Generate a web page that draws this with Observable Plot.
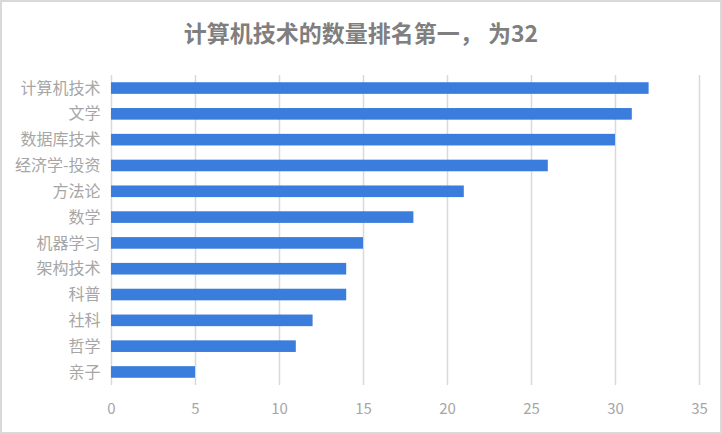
<!DOCTYPE html>
<html>
<head>
<meta charset="utf-8">
<script src="https://cdn.jsdelivr.net/npm/d3@7"></script>
<script src="https://cdn.jsdelivr.net/npm/@observablehq/plot@0.6"></script>
<style>
  html, body { margin: 0; padding: 0; background: #fff; }
  #wrap { position: relative; width: 722px; height: 434px; overflow: hidden; font-family: "Noto Sans CJK SC", "Noto Sans", sans-serif; }
  #title { position: absolute; left: 0; top: 0; width: 722px; height: 60px; line-height: 64px; text-align: center; font-size: 23px; font-weight: bold; color: #7f7f7f; }
  #chart { position: absolute; left: 0; top: 60px; }
  #border { position: absolute; left: 0; top: 0; width: 722px; height: 434px; box-sizing: border-box; border: 2px solid #d9d9d9; pointer-events: none; }
</style>
</head>
<body>
<div id="wrap">
  <div id="title">计算机技术的数量排名第一， 为32</div>
  <div id="chart"></div>
  <div id="border"></div>
</div>
<script>
const categories = ["计算机技术", "文学", "数据库技术", "经济学-投资", "方法论", "数学", "机器学习", "架构技术", "科普", "社科", "哲学", "亲子"];
const counts = [32, 31, 30, 26, 21, 18, 15, 14, 14, 12, 11, 5];
const xTicks = [0, 5, 10, 15, 20, 25, 30, 35];

const data = categories.map((c, i) => ({category: c, count: counts[i]}));

const chart = Plot.plot({
  width: 722,
  height: 374,
  marginLeft: 111,
  marginRight: 23,
  marginTop: 15,
  marginBottom: 49,
  style: {fontFamily: '"Noto Sans CJK SC", "Noto Sans", sans-serif', fontSize: "15px", color: "#a6a6a6", background: "transparent"},
  x: {domain: [0, 35], ticks: xTicks, label: null, tickSize: 0, tickPadding: 18},
  y: {domain: categories, label: null, tickSize: 0, tickPadding: 11, paddingInner: 0.55, paddingOuter: 0.28, round: false},
  marks: [
    Plot.gridX(xTicks, {stroke: "#d9d9d9", strokeOpacity: 1, strokeWidth: 1.5}),
    Plot.barX(data, {x: "count", y: "category", fill: "#3a7ddc"}),
    Plot.axisX({ticks: xTicks, tickSize: 0, tickPadding: 18, fill: "#a6a6a6", label: null}),
    Plot.axisY({tickSize: 0, tickPadding: 11, fill: "#a6a6a6", label: null, fontSize: 16})
  ]
});
document.getElementById("chart").appendChild(chart);
</script>
</body>
</html>
